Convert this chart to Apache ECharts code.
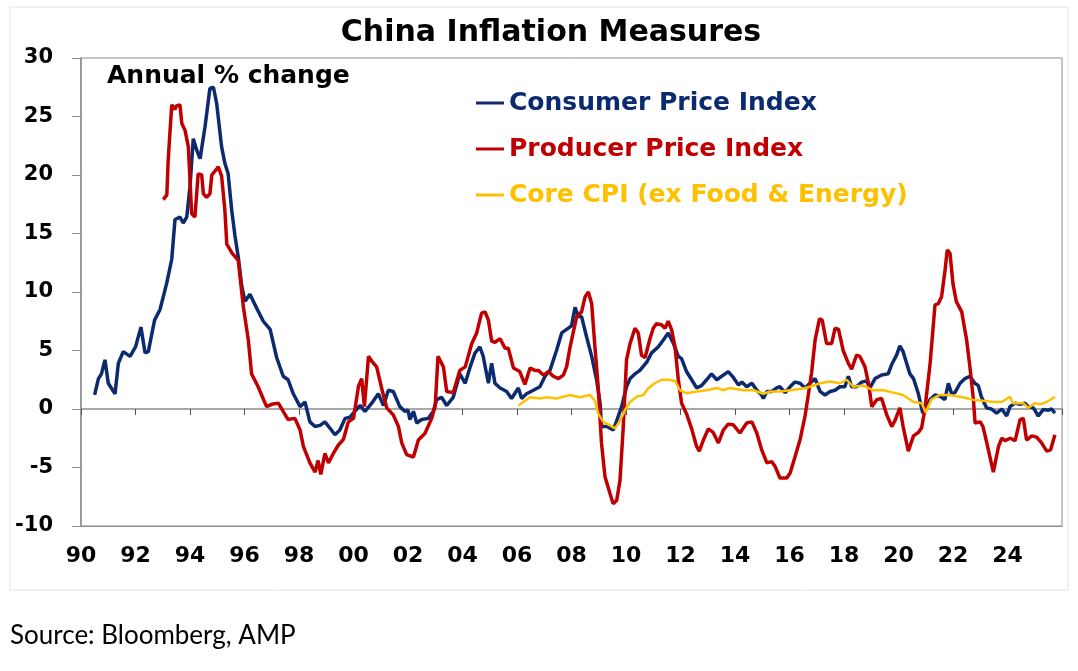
<!DOCTYPE html>
<html>
<head>
<meta charset="utf-8">
<title>China Inflation Measures</title>
<script src="https://cdn.jsdelivr.net/npm/echarts@6/dist/echarts.min.js"></script>
<style>
  html, body { margin: 0; padding: 0; background: #fff; }
  #chart { width: 1078px; height: 671px; }
</style>
</head>
<body>
<div id="chart"></div>
<script>
// annual % change, [decimal year, value]
const cpi = [
  [1990.50, 1.2], [1990.64, 2.6], [1990.75, 3.0], [1990.88, 4.2], [1991.00, 2.2], [1991.25, 1.3],
  [1991.37, 3.9], [1991.55, 4.9], [1991.80, 4.5], [1992.00, 5.3], [1992.20, 7.0], [1992.35, 4.8],
  [1992.47, 4.9], [1992.70, 7.6], [1992.90, 8.5], [1993.15, 10.8], [1993.33, 12.8], [1993.45, 16.2],
  [1993.63, 16.4], [1993.75, 15.9], [1993.88, 16.4], [1994.00, 19.0], [1994.12, 23.1], [1994.25, 22.1],
  [1994.37, 21.4], [1994.55, 24.1], [1994.73, 27.4], [1994.86, 27.5], [1994.98, 26.1], [1995.16, 22.4],
  [1995.28, 21.0], [1995.40, 20.1], [1995.53, 17.0], [1995.65, 14.8], [1995.77, 13.0], [1995.90, 10.5],
  [1996.02, 9.2], [1996.20, 9.8], [1996.45, 8.6], [1996.69, 7.5], [1996.94, 6.8], [1997.18, 4.4],
  [1997.42, 2.8], [1997.60, 2.5], [1997.79, 1.3], [1998.04, 0.2], [1998.22, 0.6], [1998.40, -1.1],
  [1998.59, -1.5], [1998.77, -1.4], [1998.95, -1.1], [1999.14, -1.65], [1999.32, -2.2], [1999.50, -1.8],
  [1999.69, -0.8], [1999.87, -0.7], [2000.05, -0.2], [2000.24, 0.3], [2000.42, -0.2], [2000.67, 0.5],
  [2000.91, 1.3], [2001.10, 0.3], [2001.28, 1.6], [2001.46, 1.5], [2001.70, 0.2], [2001.89, -0.2],
  [2002.00, -0.1], [2002.07, -0.9], [2002.20, -0.2], [2002.32, -1.2], [2002.50, -0.9], [2002.75, -0.8],
  [2002.93, -0.2], [2003.05, 0.8], [2003.23, 1.0], [2003.42, 0.3], [2003.66, 1.0], [2003.90, 3.0],
  [2004.10, 2.2], [2004.28, 3.6], [2004.46, 4.8], [2004.64, 5.3], [2004.76, 4.5], [2004.95, 2.2],
  [2005.07, 3.9], [2005.19, 2.2], [2005.38, 1.8], [2005.62, 1.5], [2005.80, 0.9], [2006.05, 1.8],
  [2006.17, 0.9], [2006.35, 1.3], [2006.60, 1.6], [2006.84, 1.9], [2007.03, 2.8], [2007.21, 3.3],
  [2007.45, 5.0], [2007.64, 6.5], [2007.82, 6.8], [2008.00, 7.1], [2008.13, 8.7], [2008.25, 7.9],
  [2008.37, 7.9], [2008.55, 6.2], [2008.74, 4.5], [2008.92, 2.5], [2009.05, 0.5], [2009.10, -1.5],
  [2009.30, -1.5], [2009.53, -1.8], [2009.66, -1.0], [2009.84, 0.2], [2010.02, 1.9], [2010.15, 2.6],
  [2010.33, 3.0], [2010.51, 3.3], [2010.76, 4.0], [2010.94, 4.8], [2011.18, 5.3], [2011.37, 5.9],
  [2011.55, 6.5], [2011.74, 5.6], [2011.92, 4.5], [2012.04, 4.3], [2012.22, 3.2], [2012.41, 2.5],
  [2012.59, 1.8], [2012.77, 2.0], [2012.96, 2.5], [2013.14, 3.0], [2013.33, 2.5], [2013.57, 2.9],
  [2013.75, 3.2], [2013.94, 2.7], [2014.13, 2.05], [2014.25, 2.3], [2014.43, 1.9], [2014.62, 2.2],
  [2014.80, 1.6], [2014.98, 1.2], [2015.04, 0.9], [2015.17, 1.5], [2015.35, 1.5], [2015.53, 1.8],
  [2015.65, 1.9], [2015.84, 1.4], [2016.02, 1.9], [2016.20, 2.3], [2016.39, 2.2], [2016.57, 1.8],
  [2016.75, 2.2], [2016.94, 2.6], [2017.12, 1.5], [2017.30, 1.2], [2017.49, 1.5], [2017.67, 1.6],
  [2017.85, 1.9], [2018.03, 1.9], [2018.16, 2.8], [2018.28, 1.9], [2018.46, 1.9], [2018.65, 2.3],
  [2018.83, 2.4], [2018.95, 1.8], [2019.14, 2.6], [2019.38, 2.9], [2019.62, 3.0], [2019.75, 3.8],
  [2019.93, 4.6], [2020.05, 5.4], [2020.17, 4.9], [2020.30, 3.9], [2020.42, 3.0], [2020.55, 2.6],
  [2020.73, 1.3], [2020.89, -0.35], [2021.03, 0.25], [2021.16, 0.8], [2021.34, 1.2], [2021.52, 1.1],
  [2021.70, 0.8], [2021.83, 2.2], [2021.95, 1.3], [2022.07, 1.4], [2022.26, 2.2], [2022.44, 2.6],
  [2022.62, 2.8], [2022.80, 2.2], [2022.93, 2.0], [2023.04, 1.05], [2023.23, 0.1], [2023.41, 0.0],
  [2023.60, -0.35], [2023.79, 0.0], [2023.97, -0.6], [2024.09, 0.2], [2024.28, 0.5], [2024.46, 0.4],
  [2024.64, 0.5], [2024.77, 0.2], [2024.95, 0.1], [2025.13, -0.6], [2025.31, -0.05], [2025.50, -0.1],
  [2025.62, 0.0], [2025.74, -0.35]
];

const ppi = [
  [1993.02, 17.9], [1993.15, 18.3], [1993.20, 21.3], [1993.33, 26.0], [1993.45, 25.6], [1993.50, 25.9],
  [1993.63, 26.0], [1993.70, 24.4], [1993.82, 23.8], [1993.94, 22.4], [1994.06, 16.7], [1994.18, 16.4],
  [1994.30, 20.1], [1994.43, 20.0], [1994.49, 18.4], [1994.61, 18.1], [1994.73, 18.4], [1994.80, 20.0],
  [1995.04, 20.7], [1995.16, 19.9], [1995.28, 17.0], [1995.35, 14.1], [1995.55, 13.3], [1995.77, 12.7],
  [1995.96, 8.7], [1996.14, 5.9], [1996.26, 3.0], [1996.50, 1.9], [1996.81, 0.2], [1997.00, 0.4],
  [1997.24, 0.5], [1997.42, -0.2], [1997.60, -0.9], [1997.85, -0.8], [1998.04, -1.8], [1998.16, -3.2],
  [1998.40, -4.6], [1998.59, -5.4], [1998.70, -4.4], [1998.80, -5.6], [1998.95, -3.8], [1999.08, -4.6],
  [1999.26, -3.8], [1999.44, -3.1], [1999.63, -2.6], [1999.81, -1.1], [2000.00, -0.8], [2000.18, 1.9],
  [2000.30, 2.6], [2000.40, 0.2], [2000.55, 4.5], [2000.67, 4.1], [2000.85, 3.6], [2001.03, 1.8],
  [2001.22, 0.1], [2001.46, -0.5], [2001.65, -1.5], [2001.77, -2.9], [2001.95, -3.9], [2002.20, -4.1],
  [2002.38, -2.65], [2002.62, -2.1], [2002.87, -0.8], [2003.00, 0.3], [2003.10, 4.5], [2003.17, 4.6],
  [2003.30, 3.6], [2003.42, 1.5], [2003.66, 1.4], [2003.90, 3.3], [2004.10, 3.6], [2004.34, 5.6],
  [2004.52, 6.5], [2004.70, 8.2], [2004.83, 8.3], [2004.95, 7.6], [2005.07, 5.8], [2005.19, 5.7],
  [2005.38, 6.0], [2005.56, 5.2], [2005.68, 5.2], [2005.87, 3.5], [2006.10, 3.2], [2006.29, 2.1],
  [2006.48, 3.5], [2006.66, 3.3], [2006.78, 3.3], [2006.97, 2.9], [2007.15, 3.2], [2007.33, 2.8],
  [2007.52, 2.6], [2007.70, 2.9], [2007.82, 3.6], [2007.94, 5.2], [2008.19, 7.9], [2008.37, 8.3],
  [2008.50, 9.6], [2008.62, 10.0], [2008.74, 9.0], [2008.86, 5.3], [2008.98, 1.9], [2009.10, -2.9],
  [2009.23, -5.8], [2009.41, -7.2], [2009.53, -8.1], [2009.66, -7.8], [2009.78, -6.1], [2009.90, -1.5],
  [2010.02, 4.2], [2010.15, 5.6], [2010.33, 6.9], [2010.45, 6.5], [2010.57, 4.6], [2010.70, 4.4],
  [2010.88, 6.0], [2011.00, 6.9], [2011.12, 7.3], [2011.30, 7.2], [2011.43, 6.9], [2011.55, 7.5],
  [2011.67, 6.8], [2011.80, 5.3], [2011.92, 2.5], [2012.04, 0.5], [2012.22, -0.4], [2012.41, -1.7],
  [2012.59, -3.2], [2012.69, -3.6], [2012.84, -2.65], [2013.02, -1.7], [2013.20, -2.0], [2013.39, -2.9],
  [2013.57, -1.8], [2013.75, -1.3], [2013.94, -1.35], [2014.18, -2.05], [2014.43, -1.2], [2014.62, -1.1],
  [2014.80, -2.05], [2014.98, -3.5], [2015.17, -4.6], [2015.35, -4.5], [2015.47, -4.9], [2015.65, -5.9],
  [2015.90, -5.9], [2016.02, -5.5], [2016.20, -4.1], [2016.39, -2.6], [2016.57, -0.6], [2016.69, 1.2],
  [2016.81, 3.1], [2016.94, 5.9], [2017.10, 7.7], [2017.20, 7.6], [2017.36, 5.6], [2017.55, 5.6],
  [2017.67, 6.9], [2017.80, 6.8], [2017.97, 5.0], [2018.16, 3.9], [2018.28, 3.4], [2018.46, 4.6],
  [2018.58, 4.5], [2018.77, 3.6], [2018.90, 2.2], [2019.02, 0.2], [2019.20, 0.8], [2019.38, 0.9],
  [2019.57, -0.5], [2019.75, -1.5], [2019.87, -1.0], [2020.05, 0.1], [2020.17, -1.5], [2020.36, -3.6],
  [2020.55, -2.3], [2020.73, -2.0], [2020.85, -1.6], [2020.97, 0.0], [2021.16, 3.9], [2021.34, 8.9],
  [2021.46, 9.0], [2021.58, 9.6], [2021.71, 11.9], [2021.79, 13.6], [2021.89, 13.3], [2022.00, 10.7],
  [2022.12, 9.2], [2022.32, 8.3], [2022.50, 5.9], [2022.62, 3.6], [2022.75, 0.8], [2022.81, -1.2],
  [2023.00, -1.1], [2023.10, -1.5], [2023.24, -2.9], [2023.48, -5.4], [2023.67, -3.2], [2023.79, -2.5],
  [2023.91, -2.7], [2024.10, -2.5], [2024.28, -2.7], [2024.46, -0.9], [2024.58, -0.8], [2024.70, -2.65],
  [2024.89, -2.3], [2025.07, -2.4], [2025.25, -2.9], [2025.44, -3.6], [2025.58, -3.5], [2025.74, -2.2]
];

const coreCpi = [
  [2006.05, 0.3], [2006.23, 0.6], [2006.48, 1.0], [2006.84, 0.9], [2007.10, 1.0], [2007.45, 0.9],
  [2007.94, 1.2], [2008.30, 1.0], [2008.68, 1.2], [2008.86, 0.7], [2008.98, -0.4], [2009.17, -1.1],
  [2009.41, -1.4], [2009.60, -1.65], [2009.78, -1.0], [2009.96, -0.1], [2010.15, 0.6], [2010.39, 1.05],
  [2010.64, 1.2], [2010.82, 1.8], [2011.06, 2.2], [2011.31, 2.5], [2011.55, 2.5], [2011.80, 2.4],
  [2011.98, 1.6], [2012.22, 1.35], [2012.59, 1.5], [2012.96, 1.6], [2013.33, 1.8], [2013.57, 1.6],
  [2013.82, 1.8], [2014.31, 1.6], [2014.68, 1.6], [2015.04, 1.3], [2015.29, 1.5], [2015.65, 1.5],
  [2016.02, 1.6], [2016.39, 1.7], [2016.75, 1.9], [2017.12, 2.2], [2017.49, 2.35], [2017.85, 2.2],
  [2018.10, 2.5], [2018.34, 1.9], [2018.71, 2.0], [2019.08, 1.6], [2019.45, 1.6], [2019.81, 1.4],
  [2020.17, 1.2], [2020.55, 0.6], [2020.85, 0.5], [2021.00, -0.3], [2021.20, 0.8], [2021.50, 1.2],
  [2021.87, 1.2], [2022.36, 1.0], [2022.73, 0.8], [2023.10, 0.7], [2023.48, 0.6], [2023.79, 0.6],
  [2024.09, 1.05], [2024.20, 0.5], [2024.58, 0.5], [2024.77, 0.1], [2025.00, 0.5], [2025.20, 0.4],
  [2025.44, 0.6], [2025.74, 1.05]
];

const seriesNames = ['Consumer Price Index', 'Producer Price Index', 'Core CPI (ex Food & Energy)'];
const seriesColors = ['#0b2a6f', '#c00000', '#ffc000'];
const yearTicks = [1990, 2026]; // axis span, labels every 2 years

// DejaVu bold is wide, close to the stretched Arial of the original
const FONT = '"DejaVu Sans", Verdana, sans-serif';
var myChart = echarts.init(document.getElementById('chart'));

const option = {
  animation: false,
  backgroundColor: '#fff',
  grid: {
    left: 81, right: 16, top: 58, bottom: 145,
    show: true, borderColor: '#8c8c8c', borderWidth: 1
  },
  graphic: [
    {
      type: 'rect', silent: true, z: -10,
      shape: { x: 10, y: 7, width: 1058, height: 583 },
      style: { fill: 'none', stroke: '#e3e3e3', lineWidth: 1 }
    },
    {
      type: 'text', x: 551, y: 33,
      style: {
        text: 'China Inflation Measures', font: 'bold 30px ' + FONT, fill: '#000',
        textAlign: 'center', textVerticalAlign: 'middle'
      }
    },
    {
      type: 'text', x: 107, y: 76,
      style: {
        text: 'Annual % change', font: 'bold 25px ' + FONT, fill: '#000',
        textAlign: 'left', textVerticalAlign: 'middle'
      }
    },
    {
      type: 'text', x: 10, y: 636,
      style: {
        text: 'Source: Bloomberg, AMP', font: '26px Lato, "Open Sans", sans-serif', fill: '#000',
        textAlign: 'left', textVerticalAlign: 'middle'
      }
    }
  ],
  legend: {
    orient: 'vertical', left: 476, top: 90, padding: 0,
    icon: 'rect', itemWidth: 28, itemHeight: 3, itemGap: 20,
    data: seriesNames.map((n, i) => ({
      name: n,
      textStyle: { color: seriesColors[i] }
    })),
    textStyle: { fontFamily: FONT, fontWeight: 'bold', fontSize: 25, lineHeight: 26 }
  },
  xAxis: [
    {
      type: 'value', min: yearTicks[0], max: yearTicks[1], interval: 2,
      position: 'bottom',
      axisLine: { onZero: false, lineStyle: { color: '#8c8c8c' } },
      axisTick: { show: false },
      splitLine: { show: false },
      axisLabel: {
        margin: 19, color: '#000', fontFamily: FONT, fontWeight: 'bold', fontSize: 22,
        formatter: v => v >= yearTicks[1] ? '' : String(v % 100).padStart(2, '0')
      }
    },
    {
      type: 'value', min: yearTicks[0], max: yearTicks[1], interval: 2,
      position: 'bottom',
      axisLine: { onZero: true, lineStyle: { color: '#8c8c8c', width: 1.5 } },
      axisTick: { show: true, length: 6, lineStyle: { color: '#555' } },
      axisLabel: { show: false },
      splitLine: { show: false }
    }
  ],
  yAxis: {
    type: 'value', min: -10, max: 30, interval: 5,
    axisLine: { show: true, lineStyle: { color: '#8c8c8c', width: 1.5 } },
    axisTick: { show: true, length: 9, lineStyle: { color: '#8c8c8c' } },
    splitLine: { show: false },
    axisLabel: { margin: 28, color: '#000', fontFamily: FONT, fontWeight: 'bold', fontSize: 21 }
  },
  series: [
    { name: seriesNames[0], type: 'line', data: cpi, showSymbol: false, color: seriesColors[0],
      lineStyle: { width: 3.5 } },
    { name: seriesNames[1], type: 'line', data: ppi, showSymbol: false, color: seriesColors[1],
      lineStyle: { width: 3.5 } },
    { name: seriesNames[2], type: 'line', data: coreCpi, showSymbol: false, color: seriesColors[2],
      lineStyle: { width: 2.5 } }
  ]
};

myChart.setOption(option);
</script>
</body>
</html>
